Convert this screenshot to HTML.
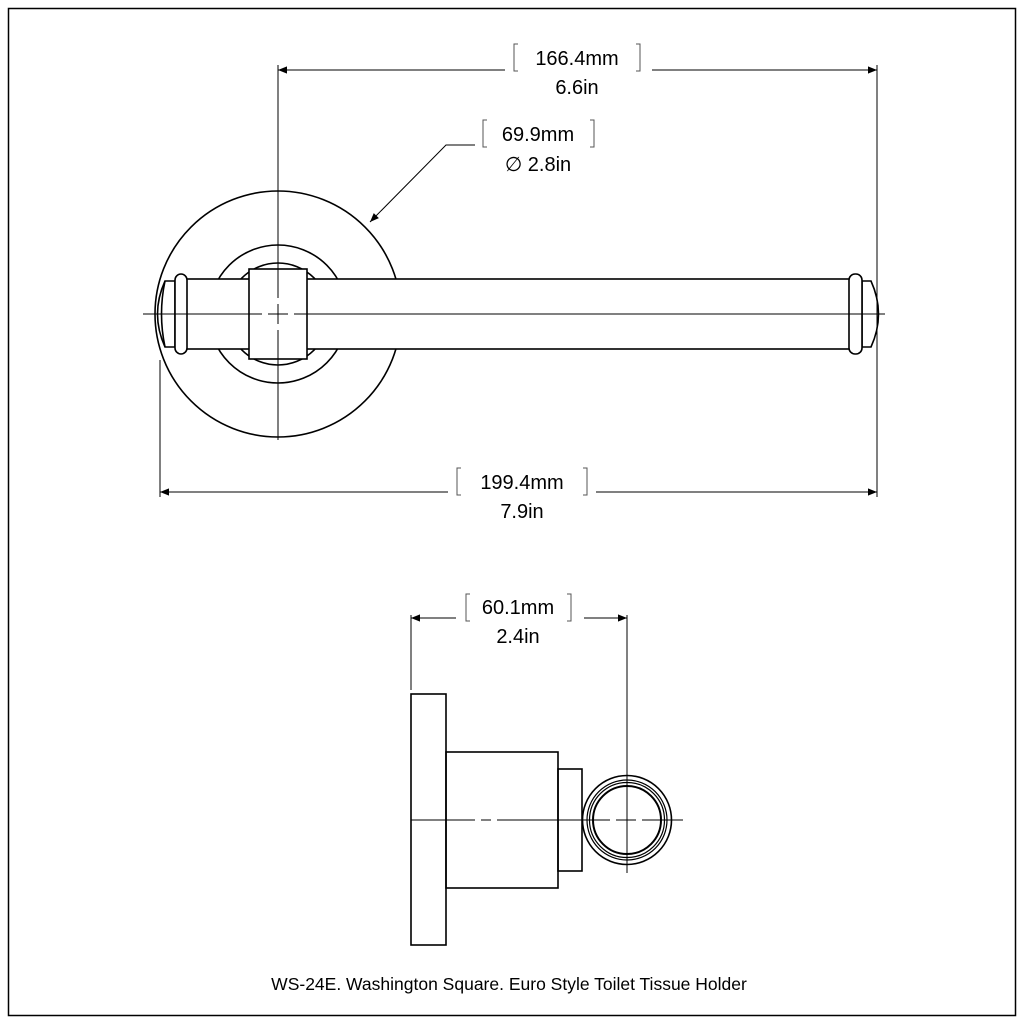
<!DOCTYPE html>
<html><head><style>body{margin:0;background:#fff}svg{display:block}</style></head><body>
<svg width="1024" height="1024" viewBox="0 0 1024 1024" xmlns="http://www.w3.org/2000/svg" font-family="Liberation Sans, sans-serif">
<defs><marker id="a" viewBox="0 0 10 10" refX="10" refY="5" markerWidth="15" markerHeight="9" orient="auto-start-reverse" markerUnits="userSpaceOnUse"><path d="M0,1 L10,5 L0,9 z" fill="#000"/></marker></defs>
<rect x="8.5" y="8.5" width="1007" height="1007" fill="none" stroke="#000" stroke-width="1.5"/>
<g stroke="#000" fill="none" stroke-width="1.6">
<circle cx="278" cy="314" r="123"/>
<circle cx="278" cy="314" r="69" fill="#fff"/>
<circle cx="278" cy="314" r="51"/>
<rect x="185" y="279" width="670" height="70" fill="#fff"/>
<rect x="249" y="269" width="58" height="90" fill="#fff"/>
<path d="M175,281 L165,281 Q150,314 165,347 L175,347 Z" fill="#fff"/>
<path d="M165,281 Q158,314 165,347"/>
<rect x="175" y="274" width="12" height="80" rx="6" fill="#fff"/>
<path d="M862,281 L871,281 Q886,314 871,347 L862,347 Z" fill="#fff"/>
<rect x="849" y="274" width="13" height="80" rx="6" fill="#fff"/>
<rect x="411" y="694" width="35" height="251"/>
<rect x="446" y="752" width="112" height="136"/>
<rect x="558" y="769" width="24" height="102"/>
<circle cx="627" cy="820" r="44.5"/>
<circle cx="627" cy="820" r="40" stroke-width="1.2"/>
<circle cx="627" cy="820" r="37.5" stroke-width="1.2"/>
<circle cx="627" cy="820" r="34" stroke-width="2"/>
</g>
<g stroke="#000" stroke-width="1" fill="none">
<path d="M143,314 H262 M268,314 H288 M294,314 H885"/>
<path d="M278,65 V298 M278,304 V324 M278,330 V440"/>
<path d="M877,65 V497 M160,360 V497"/>
<path d="M411,615 V690 M627,615 V873"/>
<path d="M411,820 H475 M481,820 H491 M497,820 H610 M616,820 H636 M642,820 H683"/>
<path d="M278,70 H505" marker-start="url(#a)"/>
<path d="M652,70 H877" marker-end="url(#a)"/>
<path d="M160,492 H448" marker-start="url(#a)"/>
<path d="M596,492 H877" marker-end="url(#a)"/>
<path d="M411,618 H456" marker-start="url(#a)"/>
<path d="M584,618 H627" marker-end="url(#a)"/>
<path d="M475,145 H446 L370,222" marker-end="url(#a)"/>
</g>
<g stroke="#555" stroke-width="1" fill="none">
<path d="M518,44 h-4 v27 h4 M636,44 h4 v27 h-4"/>
<path d="M487,120 h-4 v27 h4 M590,120 h4 v27 h-4"/>
<path d="M461,468 h-4 v27 h4 M583,468 h4 v27 h-4"/>
<path d="M470,594 h-4 v27 h4 M567,594 h4 v27 h-4"/>
</g>
<g font-size="20" fill="#000" text-anchor="middle">
<text x="577" y="65">166.4mm</text><text x="577" y="94">6.6in</text>
<text x="538" y="141">69.9mm</text><text x="538" y="171">∅ 2.8in</text>
<text x="522" y="489">199.4mm</text><text x="522" y="518">7.9in</text>
<text x="518" y="614">60.1mm</text><text x="518" y="643">2.4in</text>
<text x="509" y="990" font-size="17.5">WS-24E. Washington Square. Euro Style Toilet Tissue Holder</text>
</g>
</svg>
</body></html>
